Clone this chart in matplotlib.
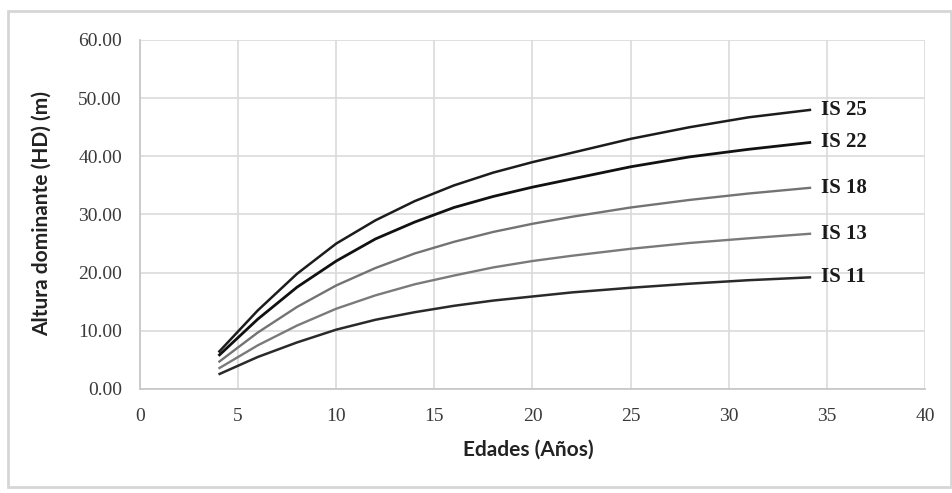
import matplotlib
matplotlib.use("Agg")
import matplotlib.pyplot as plt
from matplotlib.patches import Rectangle

ages = [4, 6, 8, 10, 12, 14, 16, 18, 20, 22, 25, 28, 31, 34.2]
is25 = [6.3, 13.5, 19.8, 25.0, 29.0, 32.3, 35.0, 37.2, 39.0, 40.6, 43.0, 45.0, 46.7, 48.0]
is22 = [5.7, 12.0, 17.5, 22.0, 25.8, 28.7, 31.2, 33.1, 34.7, 36.1, 38.2, 39.9, 41.2, 42.4]
is18 = [4.6, 9.7, 14.1, 17.8, 20.8, 23.3, 25.3, 27.0, 28.4, 29.6, 31.2, 32.5, 33.6, 34.6]
is13 = [3.5, 7.5, 10.9, 13.8, 16.1, 18.0, 19.5, 20.9, 22.0, 22.9, 24.1, 25.1, 25.9, 26.7]
is11 = [2.5, 5.5, 8.0, 10.2, 11.9, 13.2, 14.3, 15.2, 15.9, 16.6, 17.4, 18.1, 18.7, 19.2]

series_labels = ["IS 25", "IS 22", "IS 18", "IS 13", "IS 11"]
series_values = [is25, is22, is18, is13, is11]
series_colors = ["#1c1c1c", "#111111", "#737373", "#7a7a7a", "#2a2a2a"]
series_widths = [1.8, 2.0, 1.7, 1.7, 1.8]

x_ticks = [0, 5, 10, 15, 20, 25, 30, 35, 40]
y_ticks = [0, 10, 20, 30, 40, 50, 60]

fig = plt.figure(figsize=(9.53, 4.93), dpi=100)
fig.patch.set_facecolor("white")

# outer frame
fig.add_artist(Rectangle((0.008, 0.012), 0.990, 0.965, transform=fig.transFigure,
                         fill=False, edgecolor="#d6d6d6", linewidth=2.0))

ax = fig.add_axes([0.1469, 0.2110, 0.8237, 0.7079])
for ys, lab, col, lw in zip(series_values, series_labels, series_colors, series_widths):
    ax.plot(ages, ys, color=col, linewidth=lw, solid_capstyle="butt", solid_joinstyle="round")
    ax.text(ages[-1] + 0.5, ys[-1], lab, fontsize=15, fontweight="bold",
            family="Liberation Serif", color="#1a1a1a", va="center", ha="left")

ax.set_xlim(0, 40)
ax.set_ylim(0, 60)
ax.set_xticks(x_ticks)
ax.set_yticks(y_ticks)
ax.set_xticklabels([str(t) for t in x_ticks], family="Liberation Serif", fontsize=14, color="#3a3a3a")
ax.set_yticklabels([f"{t:.2f}" for t in y_ticks], family="Liberation Serif", fontsize=14, color="#3a3a3a")
ax.tick_params(axis="y", length=0, pad=13)
ax.tick_params(axis="x", length=0, pad=14)
ax.grid(True, color="#dadada", linewidth=1.2)
ax.set_axisbelow(True)
for s in ["top", "right"]:
    ax.spines[s].set_visible(False)
for s in ["left", "bottom"]:
    ax.spines[s].set_color("#c8c8c8")
    ax.spines[s].set_linewidth(1.3)

fig.text(528 / 953, 1 - 450 / 493, "Edades (Años)", family="Lato", fontweight="bold",
         fontsize=15, color="#222222", ha="center", va="center")
fig.text(42 / 953, 1 - 213 / 493, "Altura dominante (HD) (m)", family="Lato", fontweight="bold",
         fontsize=15, color="#222222", ha="center", va="center", rotation=90)

fig.savefig("out.png", dpi=100)
